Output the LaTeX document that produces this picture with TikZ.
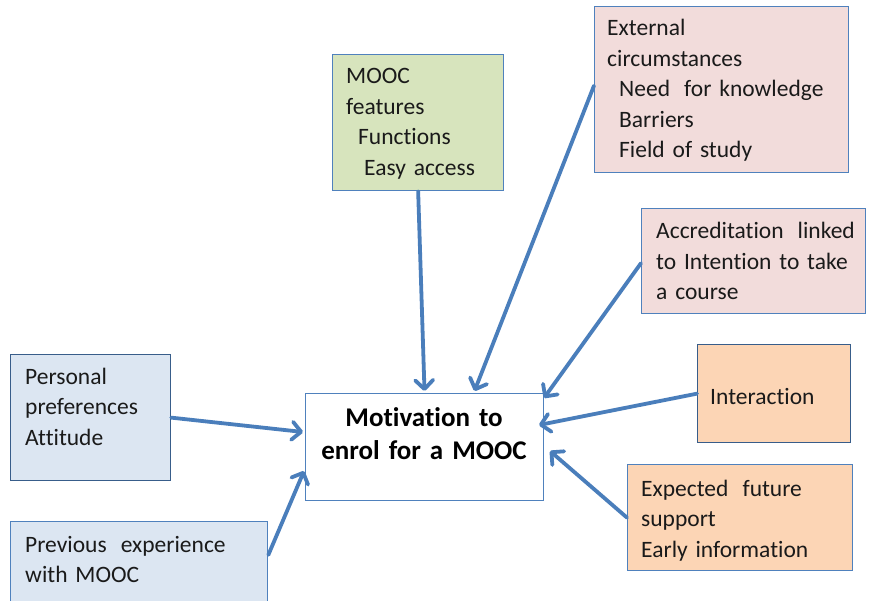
\documentclass[tikz,border=0pt]{standalone}
\usepackage{fontspec}
\setmainfont{Carlito}[Ligatures=CommonOff]
\usetikzlibrary{arrows.meta}
\definecolor{arrowblue}{HTML}{4A7EBB}
\definecolor{edgeblue}{HTML}{4F81BD}
\definecolor{darkedge}{HTML}{385D8A}
\definecolor{greenfill}{HTML}{D7E4BD}
\definecolor{pinkfill}{HTML}{F2DCDB}
\definecolor{orangefill}{HTML}{FCD5B5}
\definecolor{bluefill}{HTML}{DCE6F2}
\definecolor{textgray}{HTML}{1A1A1A}
\newcommand{\wgap}{\hspace{0.6em}}
\tikzset{
  factor/.style={draw=edgeblue, line width=1.3pt, rectangle, inner sep=0pt, anchor=north west},
  label text/.style={anchor=base west, inner sep=0pt, text width=260pt, align=left,
    text=textgray, font=\fontsize{23.5}{30.5}\selectfont},
  title text/.style={anchor=base, inner sep=0pt, text width=230pt, align=center,
    text=black, font=\fontsize{27}{33}\selectfont\bfseries},
  push/.style={draw=arrowblue, line width=3.8pt, line cap=round,
    -{Straight Barb[length=9pt,width=18pt,line width=3.8pt,round]}},
}
\begin{document}
\begin{tikzpicture}[x=1pt,y=-1pt]
\clip (0,0) rectangle (875,601);
\fill[white] (0,0) rectangle (875,601);

% central construct
\node[factor, draw=edgeblue, line width=1pt, fill=white, minimum width=238pt, minimum height=107pt] (c) at (305,393) {};
\node[title text] (ct) at ([shift={(119,33)}]c.north west) {Motivation to\\enrol for a MOOC};

% influencing factors
\node[factor, fill=greenfill, minimum width=171pt, minimum height=136pt] (m) at (332,54) {};
\node[label text] (mt) at ([shift={(14,30)}]m.north west)
  {MOOC\\features\\\hspace*{12pt}Functions\\\hspace*{18pt}Easy access};

\node[factor, fill=pinkfill, minimum width=254pt, minimum height=166pt] (e) at (594,6) {};
\node[label text] (et) at ([shift={(13,30)}]e.north west)
  {External\\circumstances\\\hspace*{12pt}Need\wgap for knowledge\\\hspace*{12pt}Barriers\\\hspace*{12pt}Field of study};

\node[factor, fill=pinkfill, minimum width=224pt, minimum height=105pt] (a) at (641,208) {};
\node[label text] (at) at ([shift={(15,31)}]a.north west)
  {Accreditation\wgap linked\\to Intention to take\\a course};

\node[factor, draw=darkedge, fill=orangefill, minimum width=153pt, minimum height=98pt] (i) at (697,344) {};
\node[label text] (it) at ([shift={(13,60)}]i.north west) {Interaction};

\node[factor, fill=orangefill, minimum width=225pt, minimum height=106pt] (x) at (627,464) {};
\node[label text] (xt) at ([shift={(14,32)}]x.north west)
  {Expected\wgap future\\support\\Early information};

\node[factor, draw=darkedge, fill=bluefill, minimum width=160pt, minimum height=126pt] (p) at (10,354) {};
\node[label text] (pt) at ([shift={(15,30)}]p.north west)
  {Personal\\preferences\\Attitude};

\node[factor, fill=bluefill, minimum width=257pt, minimum height=110pt] (v) at (10,521) {};
\node[label text] (vt) at ([shift={(15,31)}]v.north west)
  {Previous\wgap experience\\with MOOC};

% influences
\draw[push] (m.south) -- ([shift={(0,-2)}]c.north);
\draw[push] ([shift={(0,-4)}]e.west) -- ([shift={(50,-2)}]c.north);
\draw[push] ([shift={(0,2)}]a.west) -- ([shift={(0,5)}]c.north east);
\draw[push] ([shift={(0,0)}]i.west) -- ([shift={(-5,-22)}]c.east);
\draw[push] ([shift={(0,0)}]x.west) -- ([shift={(6,4)}]c.east);
\draw[push] ([shift={(0,0)}]p.east) -- ([shift={(-2,-15)}]c.west);
\draw[push] ([shift={(0,34)}]v.north east) -- ([shift={(-1,-30)}]c.south west);
\end{tikzpicture}
\end{document}
